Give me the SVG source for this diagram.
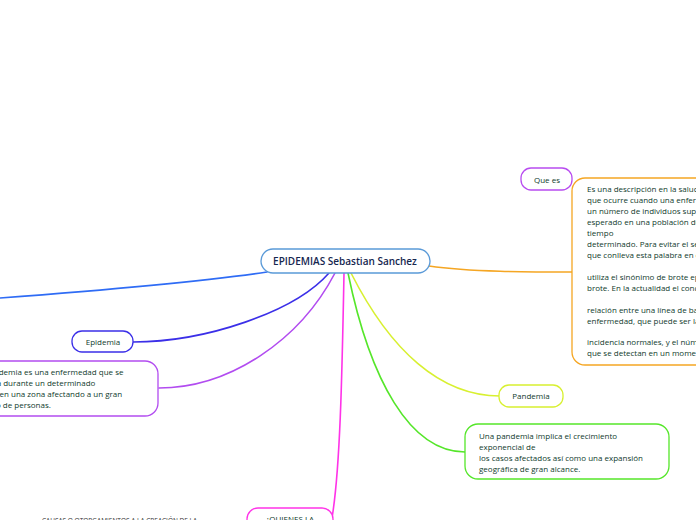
<svg xmlns="http://www.w3.org/2000/svg" width="696" height="520" viewBox="0 0 696 520">
<style>
.t{font-family:"Open Sans","Noto Sans","Liberation Sans",sans-serif;font-size:8px;fill:#0f3a2c}
.c{text-anchor:middle}
.n{fill:#fff;stroke-width:1.3}
.e{fill:none;stroke-width:1.6;stroke-linecap:round}
</style>
<rect width="696" height="520" fill="#fff"/>
<g id="connectors">
<path class="e" stroke="#2f6cf5" d="M267,272 C200,282 80,292 0,298"/>
<path class="e" stroke="#3b2fe8" d="M329,273 C295,312 205,342 133,342"/>
<path class="e" stroke="#b24cf0" d="M335,273 C300,340 230,388 159,388"/>
<path class="e" stroke="#ff33e8" d="M344,273 C342,380 340,470 332,518"/>
<path class="e" stroke="#55e62a" d="M348,273 C370,380 410,452 465,452"/>
<path class="e" stroke="#d8f030" d="M351,273 C390,350 440,396 500,396"/>
<path class="e" stroke="#f5a623" d="M429,266 C470,272 530,272 572,272"/>
</g>
<g id="central">
<rect class="n" x="261" y="249" width="169" height="24" rx="12" stroke="#5a9ad8"/>
<text class="t c" x="345" y="265" style="font-size:10px;font-weight:600;fill:#15264f">EPIDEMIAS Sebastian Sanchez</text>
</g>
<g id="que-es">
<rect class="n" x="521" y="168" width="51" height="22" rx="10" stroke="#b84cf0"/>
<text class="t c" x="547" y="183">Que es</text>
</g>
<g id="que-es-text">
<rect class="n" x="572" y="178" width="240" height="187" rx="13" stroke="#f5a623"/>
<text class="t" x="587" y="192">Es una descripción en la salud comunitaria</text>
<text class="t" x="587" y="203">que ocurre cuando una enfermedad afecta a</text>
<text class="t" x="587" y="214">un número de individuos superior al</text>
<text class="t" x="587" y="225">esperado en una población durante un</text>
<text class="t" x="587" y="236">tiempo</text>
<text class="t" x="587" y="247">determinado. Para evitar el sensacionalismo</text>
<text class="t" x="587" y="258">que conlleva esta palabra en ocasiones se</text>
<text class="t" x="587" y="280">utiliza el sinónimo de brote epidémico o</text>
<text class="t" x="587" y="291">brote. En la actualidad el concepto es una</text>
<text class="t" x="587" y="313">relación entre una línea de base de una</text>
<text class="t" x="587" y="324">enfermedad, que puede ser la prevalencia o</text>
<text class="t" x="587" y="345">incidencia normales, y el número de casos</text>
<text class="t" x="587" y="356">que se detectan en un momento dado.</text>
</g>
<g id="epidemia">
<rect class="n" x="72" y="331" width="61" height="21" rx="10" stroke="#3b2fe8"/>
<text class="t c" x="103" y="345">Epidemia</text>
</g>
<g id="epidemia-text">
<rect class="n" x="-150" y="361" width="308" height="55" rx="13" stroke="#b24cf0"/>
<text class="t" x="-30" y="375">Una epidemia es una enfermedad que se</text>
<text class="t" x="-30" y="386">propaga durante un determinado</text>
<text class="t" x="-29" y="397">tiempo en una zona afectando a un gran</text>
<text class="t" x="-29" y="408">número de personas.</text>
</g>
<g id="pandemia">
<rect class="n" x="499" y="385" width="64" height="22" rx="10" stroke="#d8f030"/>
<text class="t c" x="531" y="399">Pandemia</text>
</g>
<g id="pandemia-text">
<rect class="n" x="465" y="424" width="204" height="55" rx="13" stroke="#55e62a"/>
<text class="t" x="479" y="439">Una pandemia implica el crecimiento</text>
<text class="t" x="479" y="450">exponencial de</text>
<text class="t" x="479" y="461">los casos afectados así como una expansión</text>
<text class="t" x="479" y="472">geográfica de gran alcance.</text>
</g>
<g id="quienes">
<rect class="n" x="247" y="508" width="86" height="30" rx="11" stroke="#ff33e8"/>
<text class="t c" x="290" y="522">¿QUIENES LA</text>
</g>
<g id="causas">
<text x="42" y="523" style="font-family:'Open Sans','Liberation Sans',sans-serif;font-size:6.5px;fill:#333">CAUSAS O OTORGAMIENTOS A LA CREACIÓN DE LA</text>
</g>
</svg>
